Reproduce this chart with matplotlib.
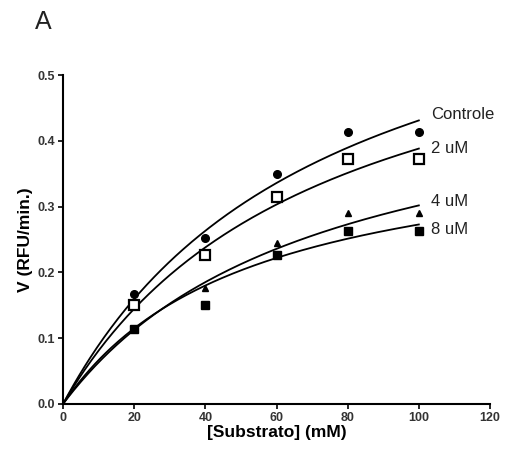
import matplotlib
matplotlib.use("Agg")
import matplotlib.pyplot as plt
import numpy as np

# Concentrações de substrato (mM)
substrato = [20, 40, 60, 80, 100]

# Velocidades medidas (RFU/min.)
v_controle = [0.167, 0.253, 0.350, 0.414, 0.414]
v_2um = [0.151, 0.227, 0.315, 0.373, 0.373]
v_4um = [0.116, 0.177, 0.244, 0.290, 0.290]
v_8um = [0.114, 0.150, 0.227, 0.263, 0.263]

# Parâmetros de Michaelis-Menten (ajuste)
vmax = [0.749, 0.670, 0.520, 0.4155]
km = [73.8, 72.6, 72.3, 52.3]

rotulos = ["Controle", "2 uM", "4 uM", "8 uM"]
rotulo_y = [0.440, 0.389, 0.308, 0.265]


def main():
    plt.rcParams["font.family"] = ["Liberation Sans", "DejaVu Sans"]
    fig = plt.figure(figsize=(5.05, 4.55), dpi=100)
    ax = fig.add_axes([63 / 505, 51 / 455, 427 / 505, 329 / 455])

    series = [v_controle, v_2um, v_4um, v_8um]
    estilos = [
        dict(marker="o", ms=5.5, mfc="black", mec="black"),
        dict(marker="s", ms=6.5, mfc="white", mec="black", mew=1.6),
        dict(marker="^", ms=4.5, mfc="black", mec="black"),
        dict(marker="s", ms=5.5, mfc="black", mec="black"),
    ]

    x_fit = np.linspace(0, 100, 200)
    for v, est, vm, k, nome, ly in zip(series, estilos, vmax, km, rotulos, rotulo_y):
        ax.plot(x_fit, vm * x_fit / (k + x_fit), color="black", lw=1.3)
        ax.plot(substrato, v, ls="none", **est)
        ax.text(103.5, ly, nome, fontsize=12, color="#222222", va="center", ha="left")

    ax.set_xlim(0, 120)
    ax.set_ylim(0, 0.5)
    ax.set_xticks(range(0, 121, 20))
    ax.set_yticks([0.0, 0.1, 0.2, 0.3, 0.4, 0.5])
    ax.set_yticklabels(["0.0", "0.1", "0.2", "0.3", "0.4", "0.5"])
    ax.spines["top"].set_visible(False)
    ax.spines["right"].set_visible(False)
    ax.spines["left"].set_linewidth(1.5)
    ax.spines["bottom"].set_linewidth(1.5)
    ax.tick_params(direction="out", length=3.6, width=1.2, labelsize=9, pad=2)
    for lab in ax.get_xticklabels() + ax.get_yticklabels():
        lab.set_fontweight("bold")
        lab.set_color("#333333")

    ax.set_xlabel("[Substrato] (mM)", fontsize=12.5, fontweight="bold", labelpad=1)
    ax.set_ylabel("V (RFU/min.)", fontsize=12.5, fontweight="bold", labelpad=3)

    fig.text(35 / 505, 1 - 29 / 455, "A", fontsize=18, color="#222222", va="baseline")

    fig.savefig("out.png", dpi=100)
    plt.close()


if __name__ == "__main__":
    main()
